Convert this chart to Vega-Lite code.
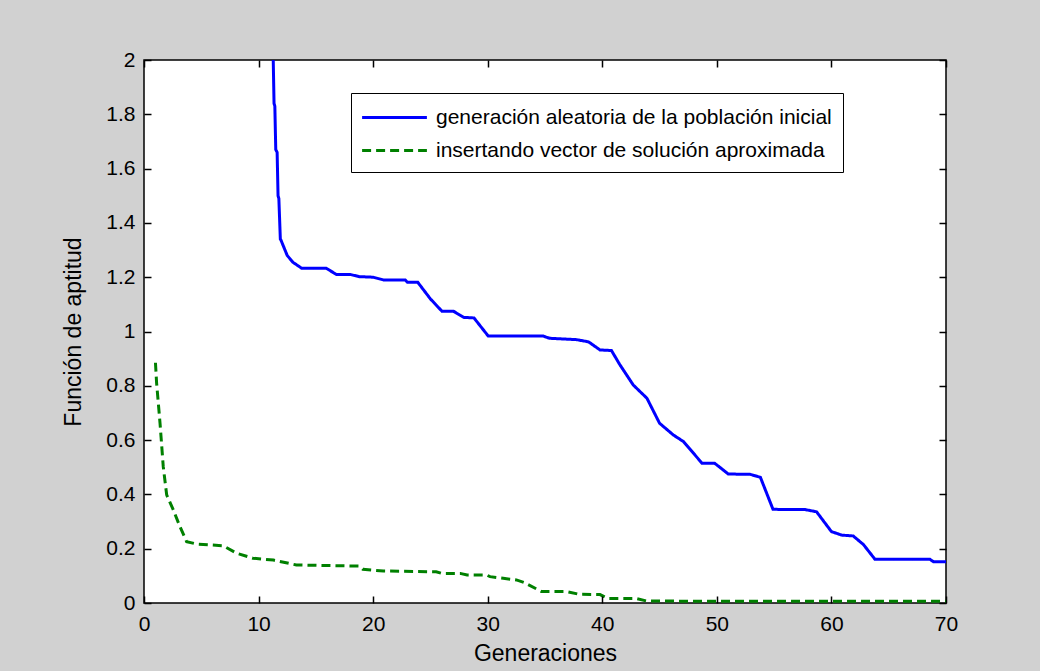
{
  "$schema": "https://vega.github.io/schema/vega-lite/v6.json",
  "width": 802,
  "height": 543,
  "autosize": {"type": "none"},
  "padding": {"left": 144, "top": 60, "right": 94, "bottom": 68},
  "background": "#d1d1d1",
  "config": {
    "font": "Liberation Sans",
    "view": {"fill": "white", "stroke": "black", "strokeWidth": 1.5},
    "axis": {
      "domain": false,
      "tickColor": "black",
      "labelColor": "black",
      "titleColor": "black",
      "labelFont": "Liberation Sans",
      "titleFont": "Liberation Sans",
      "labelFontSize": 21,
      "titleFontSize": 23,
      "titleFontWeight": "normal",
      "grid": false,
      "labelFlush": false
    }
  },
  "data": {
    "values": [
      {"gen": 11.28, "fit": 2.0, "serie": "generación aleatoria de la población inicial"},
      {"gen": 11.35, "fit": 1.84, "serie": "generación aleatoria de la población inicial"},
      {"gen": 11.42, "fit": 1.83, "serie": "generación aleatoria de la población inicial"},
      {"gen": 11.5, "fit": 1.67, "serie": "generación aleatoria de la población inicial"},
      {"gen": 11.62, "fit": 1.66, "serie": "generación aleatoria de la población inicial"},
      {"gen": 11.7, "fit": 1.5, "serie": "generación aleatoria de la población inicial"},
      {"gen": 11.77, "fit": 1.49, "serie": "generación aleatoria de la población inicial"},
      {"gen": 11.9, "fit": 1.34, "serie": "generación aleatoria de la población inicial"},
      {"gen": 11.95, "fit": 1.337, "serie": "generación aleatoria de la población inicial"},
      {"gen": 12.5, "fit": 1.28, "serie": "generación aleatoria de la población inicial"},
      {"gen": 13, "fit": 1.255, "serie": "generación aleatoria de la población inicial"},
      {"gen": 13.76, "fit": 1.233, "serie": "generación aleatoria de la población inicial"},
      {"gen": 15.9, "fit": 1.233, "serie": "generación aleatoria de la población inicial"},
      {"gen": 16.8, "fit": 1.21, "serie": "generación aleatoria de la población inicial"},
      {"gen": 18, "fit": 1.21, "serie": "generación aleatoria de la población inicial"},
      {"gen": 18.8, "fit": 1.202, "serie": "generación aleatoria de la población inicial"},
      {"gen": 20, "fit": 1.2, "serie": "generación aleatoria de la población inicial"},
      {"gen": 20.9, "fit": 1.19, "serie": "generación aleatoria de la población inicial"},
      {"gen": 22.8, "fit": 1.19, "serie": "generación aleatoria de la población inicial"},
      {"gen": 23, "fit": 1.181, "serie": "generación aleatoria de la población inicial"},
      {"gen": 23.9, "fit": 1.181, "serie": "generación aleatoria de la población inicial"},
      {"gen": 25, "fit": 1.12, "serie": "generación aleatoria de la población inicial"},
      {"gen": 26, "fit": 1.075, "serie": "generación aleatoria de la población inicial"},
      {"gen": 27, "fit": 1.075, "serie": "generación aleatoria de la población inicial"},
      {"gen": 27.9, "fit": 1.052, "serie": "generación aleatoria de la población inicial"},
      {"gen": 28.8, "fit": 1.05, "serie": "generación aleatoria de la población inicial"},
      {"gen": 30.05, "fit": 0.983, "serie": "generación aleatoria de la población inicial"},
      {"gen": 34.85, "fit": 0.983, "serie": "generación aleatoria de la población inicial"},
      {"gen": 35.4, "fit": 0.975, "serie": "generación aleatoria de la población inicial"},
      {"gen": 37.75, "fit": 0.97, "serie": "generación aleatoria de la población inicial"},
      {"gen": 38.8, "fit": 0.962, "serie": "generación aleatoria de la población inicial"},
      {"gen": 39.8, "fit": 0.932, "serie": "generación aleatoria de la población inicial"},
      {"gen": 40.8, "fit": 0.93, "serie": "generación aleatoria de la población inicial"},
      {"gen": 41.5, "fit": 0.88, "serie": "generación aleatoria de la población inicial"},
      {"gen": 42.7, "fit": 0.803, "serie": "generación aleatoria de la población inicial"},
      {"gen": 43.9, "fit": 0.754, "serie": "generación aleatoria de la población inicial"},
      {"gen": 45, "fit": 0.662, "serie": "generación aleatoria de la población inicial"},
      {"gen": 46.2, "fit": 0.619, "serie": "generación aleatoria de la población inicial"},
      {"gen": 47.1, "fit": 0.594, "serie": "generación aleatoria de la población inicial"},
      {"gen": 48.7, "fit": 0.515, "serie": "generación aleatoria de la población inicial"},
      {"gen": 49.8, "fit": 0.515, "serie": "generación aleatoria de la población inicial"},
      {"gen": 51, "fit": 0.475, "serie": "generación aleatoria de la población inicial"},
      {"gen": 52.9, "fit": 0.474, "serie": "generación aleatoria de la población inicial"},
      {"gen": 53.8, "fit": 0.463, "serie": "generación aleatoria de la población inicial"},
      {"gen": 54.9, "fit": 0.345, "serie": "generación aleatoria de la población inicial"},
      {"gen": 57.7, "fit": 0.344, "serie": "generación aleatoria de la población inicial"},
      {"gen": 58.7, "fit": 0.336, "serie": "generación aleatoria de la población inicial"},
      {"gen": 60, "fit": 0.263, "serie": "generación aleatoria de la población inicial"},
      {"gen": 60.9, "fit": 0.25, "serie": "generación aleatoria de la población inicial"},
      {"gen": 61.9, "fit": 0.247, "serie": "generación aleatoria de la población inicial"},
      {"gen": 62.8, "fit": 0.215, "serie": "generación aleatoria de la población inicial"},
      {"gen": 63.8, "fit": 0.161, "serie": "generación aleatoria de la población inicial"},
      {"gen": 68.6, "fit": 0.161, "serie": "generación aleatoria de la población inicial"},
      {"gen": 68.9, "fit": 0.152, "serie": "generación aleatoria de la población inicial"},
      {"gen": 70, "fit": 0.152, "serie": "generación aleatoria de la población inicial"},
      {"gen": 1, "fit": 0.885, "serie": "insertando vector de solución aproximada"},
      {"gen": 1.1, "fit": 0.81, "serie": "insertando vector de solución aproximada"},
      {"gen": 1.4, "fit": 0.662, "serie": "insertando vector de solución aproximada"},
      {"gen": 1.68, "fit": 0.502, "serie": "insertando vector de solución aproximada"},
      {"gen": 1.98, "fit": 0.398, "serie": "insertando vector de solución aproximada"},
      {"gen": 2.56, "fit": 0.343, "serie": "insertando vector de solución aproximada"},
      {"gen": 3.14, "fit": 0.281, "serie": "insertando vector de solución aproximada"},
      {"gen": 3.72, "fit": 0.226, "serie": "insertando vector de solución aproximada"},
      {"gen": 4.6, "fit": 0.217, "serie": "insertando vector de solución aproximada"},
      {"gen": 6.9, "fit": 0.211, "serie": "insertando vector de solución aproximada"},
      {"gen": 8.1, "fit": 0.183, "serie": "insertando vector de solución aproximada"},
      {"gen": 9.5, "fit": 0.165, "serie": "insertando vector de solución aproximada"},
      {"gen": 11.3, "fit": 0.158, "serie": "insertando vector de solución aproximada"},
      {"gen": 13.3, "fit": 0.14, "serie": "insertando vector de solución aproximada"},
      {"gen": 18.8, "fit": 0.136, "serie": "insertando vector de solución aproximada"},
      {"gen": 19.1, "fit": 0.124, "serie": "insertando vector de solución aproximada"},
      {"gen": 20.9, "fit": 0.118, "serie": "insertando vector de solución aproximada"},
      {"gen": 25.5, "fit": 0.115, "serie": "insertando vector de solución aproximada"},
      {"gen": 26, "fit": 0.109, "serie": "insertando vector de solución aproximada"},
      {"gen": 27.6, "fit": 0.109, "serie": "insertando vector de solución aproximada"},
      {"gen": 28.2, "fit": 0.103, "serie": "insertando vector de solución aproximada"},
      {"gen": 29.9, "fit": 0.103, "serie": "insertando vector de solución aproximada"},
      {"gen": 30.2, "fit": 0.097, "serie": "insertando vector de solución aproximada"},
      {"gen": 31.35, "fit": 0.091, "serie": "insertando vector de solución aproximada"},
      {"gen": 32.5, "fit": 0.085, "serie": "insertando vector de solución aproximada"},
      {"gen": 33.2, "fit": 0.075, "serie": "insertando vector de solución aproximada"},
      {"gen": 34.7, "fit": 0.042, "serie": "insertando vector de solución aproximada"},
      {"gen": 36.9, "fit": 0.042, "serie": "insertando vector de solución aproximada"},
      {"gen": 38, "fit": 0.032, "serie": "insertando vector de solución aproximada"},
      {"gen": 39.8, "fit": 0.031, "serie": "insertando vector de solución aproximada"},
      {"gen": 40.5, "fit": 0.017, "serie": "insertando vector de solución aproximada"},
      {"gen": 42.9, "fit": 0.017, "serie": "insertando vector de solución aproximada"},
      {"gen": 43.9, "fit": 0.007, "serie": "insertando vector de solución aproximada"},
      {"gen": 70, "fit": 0.006, "serie": "insertando vector de solución aproximada"}
    ]
  },
  "layer": [
    {
      "mark": {"type": "line", "strokeWidth": 3, "clip": true},
      "encoding": {
        "x": {
          "field": "gen", "type": "quantitative",
          "scale": {"domain": [0, 70], "nice": false, "zero": false},
          "axis": {"orient": "bottom", "title": "Generaciones", "values": [0, 10, 20, 30, 40, 50, 60, 70], "format": "d", "ticks": true, "tickSize": 7, "tickWidth": 1.5, "offset": -7, "labelPadding": 10, "titlePadding": 8, "zindex": 2}
        },
        "y": {
          "field": "fit", "type": "quantitative",
          "scale": {"domain": [0, 2], "nice": false},
          "axis": {"orient": "left", "title": "Función de aptitud", "values": [0, 0.2, 0.4, 0.6, 0.8, 1, 1.2, 1.4, 1.6, 1.8, 2], "format": "~g", "ticks": true, "tickSize": 7, "tickWidth": 1.5, "offset": -7, "labelPadding": 9, "titlePadding": 20, "zindex": 2}
        },
        "color": {
          "field": "serie", "type": "nominal",
          "scale": {"domain": ["generación aleatoria de la población inicial", "insertando vector de solución aproximada"], "range": ["#0000ff", "#008000"]},
          "legend": {"title": null, "orient": "none", "legendX": 207, "legendY": 33, "direction": "vertical", "fillColor": "white", "strokeColor": "black", "padding": 11, "symbolType": "M-2.7,0H2.7", "symbolSize": 576, "symbolStrokeWidth": 3, "symbolOffset": 19, "labelFontSize": 21, "labelFont": "Liberation Sans", "labelColor": "black", "labelOffset": 28, "rowPadding": 9, "labelLimit": 0, "cornerRadius": 0}
        },
        "strokeDash": {
          "field": "serie", "type": "nominal",
          "scale": {"domain": ["generación aleatoria de la población inicial", "insertando vector de solución aproximada"], "range": [[1, 0], [9, 5]]},
          "legend": {"title": null, "orient": "none", "legendX": 207, "legendY": 33, "direction": "vertical", "fillColor": "white", "strokeColor": "black", "padding": 11, "symbolType": "M-2.7,0H2.7", "symbolSize": 576, "symbolStrokeWidth": 3, "symbolOffset": 19, "labelFontSize": 21, "labelFont": "Liberation Sans", "labelColor": "black", "labelOffset": 28, "rowPadding": 9, "labelLimit": 0, "cornerRadius": 0}
        }
      }
    },
    {
      "mark": {"type": "line", "opacity": 0},
      "encoding": {
        "x": {"field": "gen", "type": "quantitative", "axis": {"orient": "top", "title": null, "labels": false, "values": [0, 10, 20, 30, 40, 50, 60, 70], "ticks": true, "tickSize": 7, "tickWidth": 1.5, "offset": -7, "zindex": 2}},
        "y": {"field": "fit", "type": "quantitative", "axis": {"orient": "right", "title": null, "labels": false, "values": [0, 0.2, 0.4, 0.6, 0.8, 1, 1.2, 1.4, 1.6, 1.8, 2], "ticks": true, "tickSize": 7, "tickWidth": 1.5, "offset": -7, "zindex": 2}},
        "detail": {"field": "serie"}
      }
    }
  ],
  "resolve": {"axis": {"x": "independent", "y": "independent"}}
}
